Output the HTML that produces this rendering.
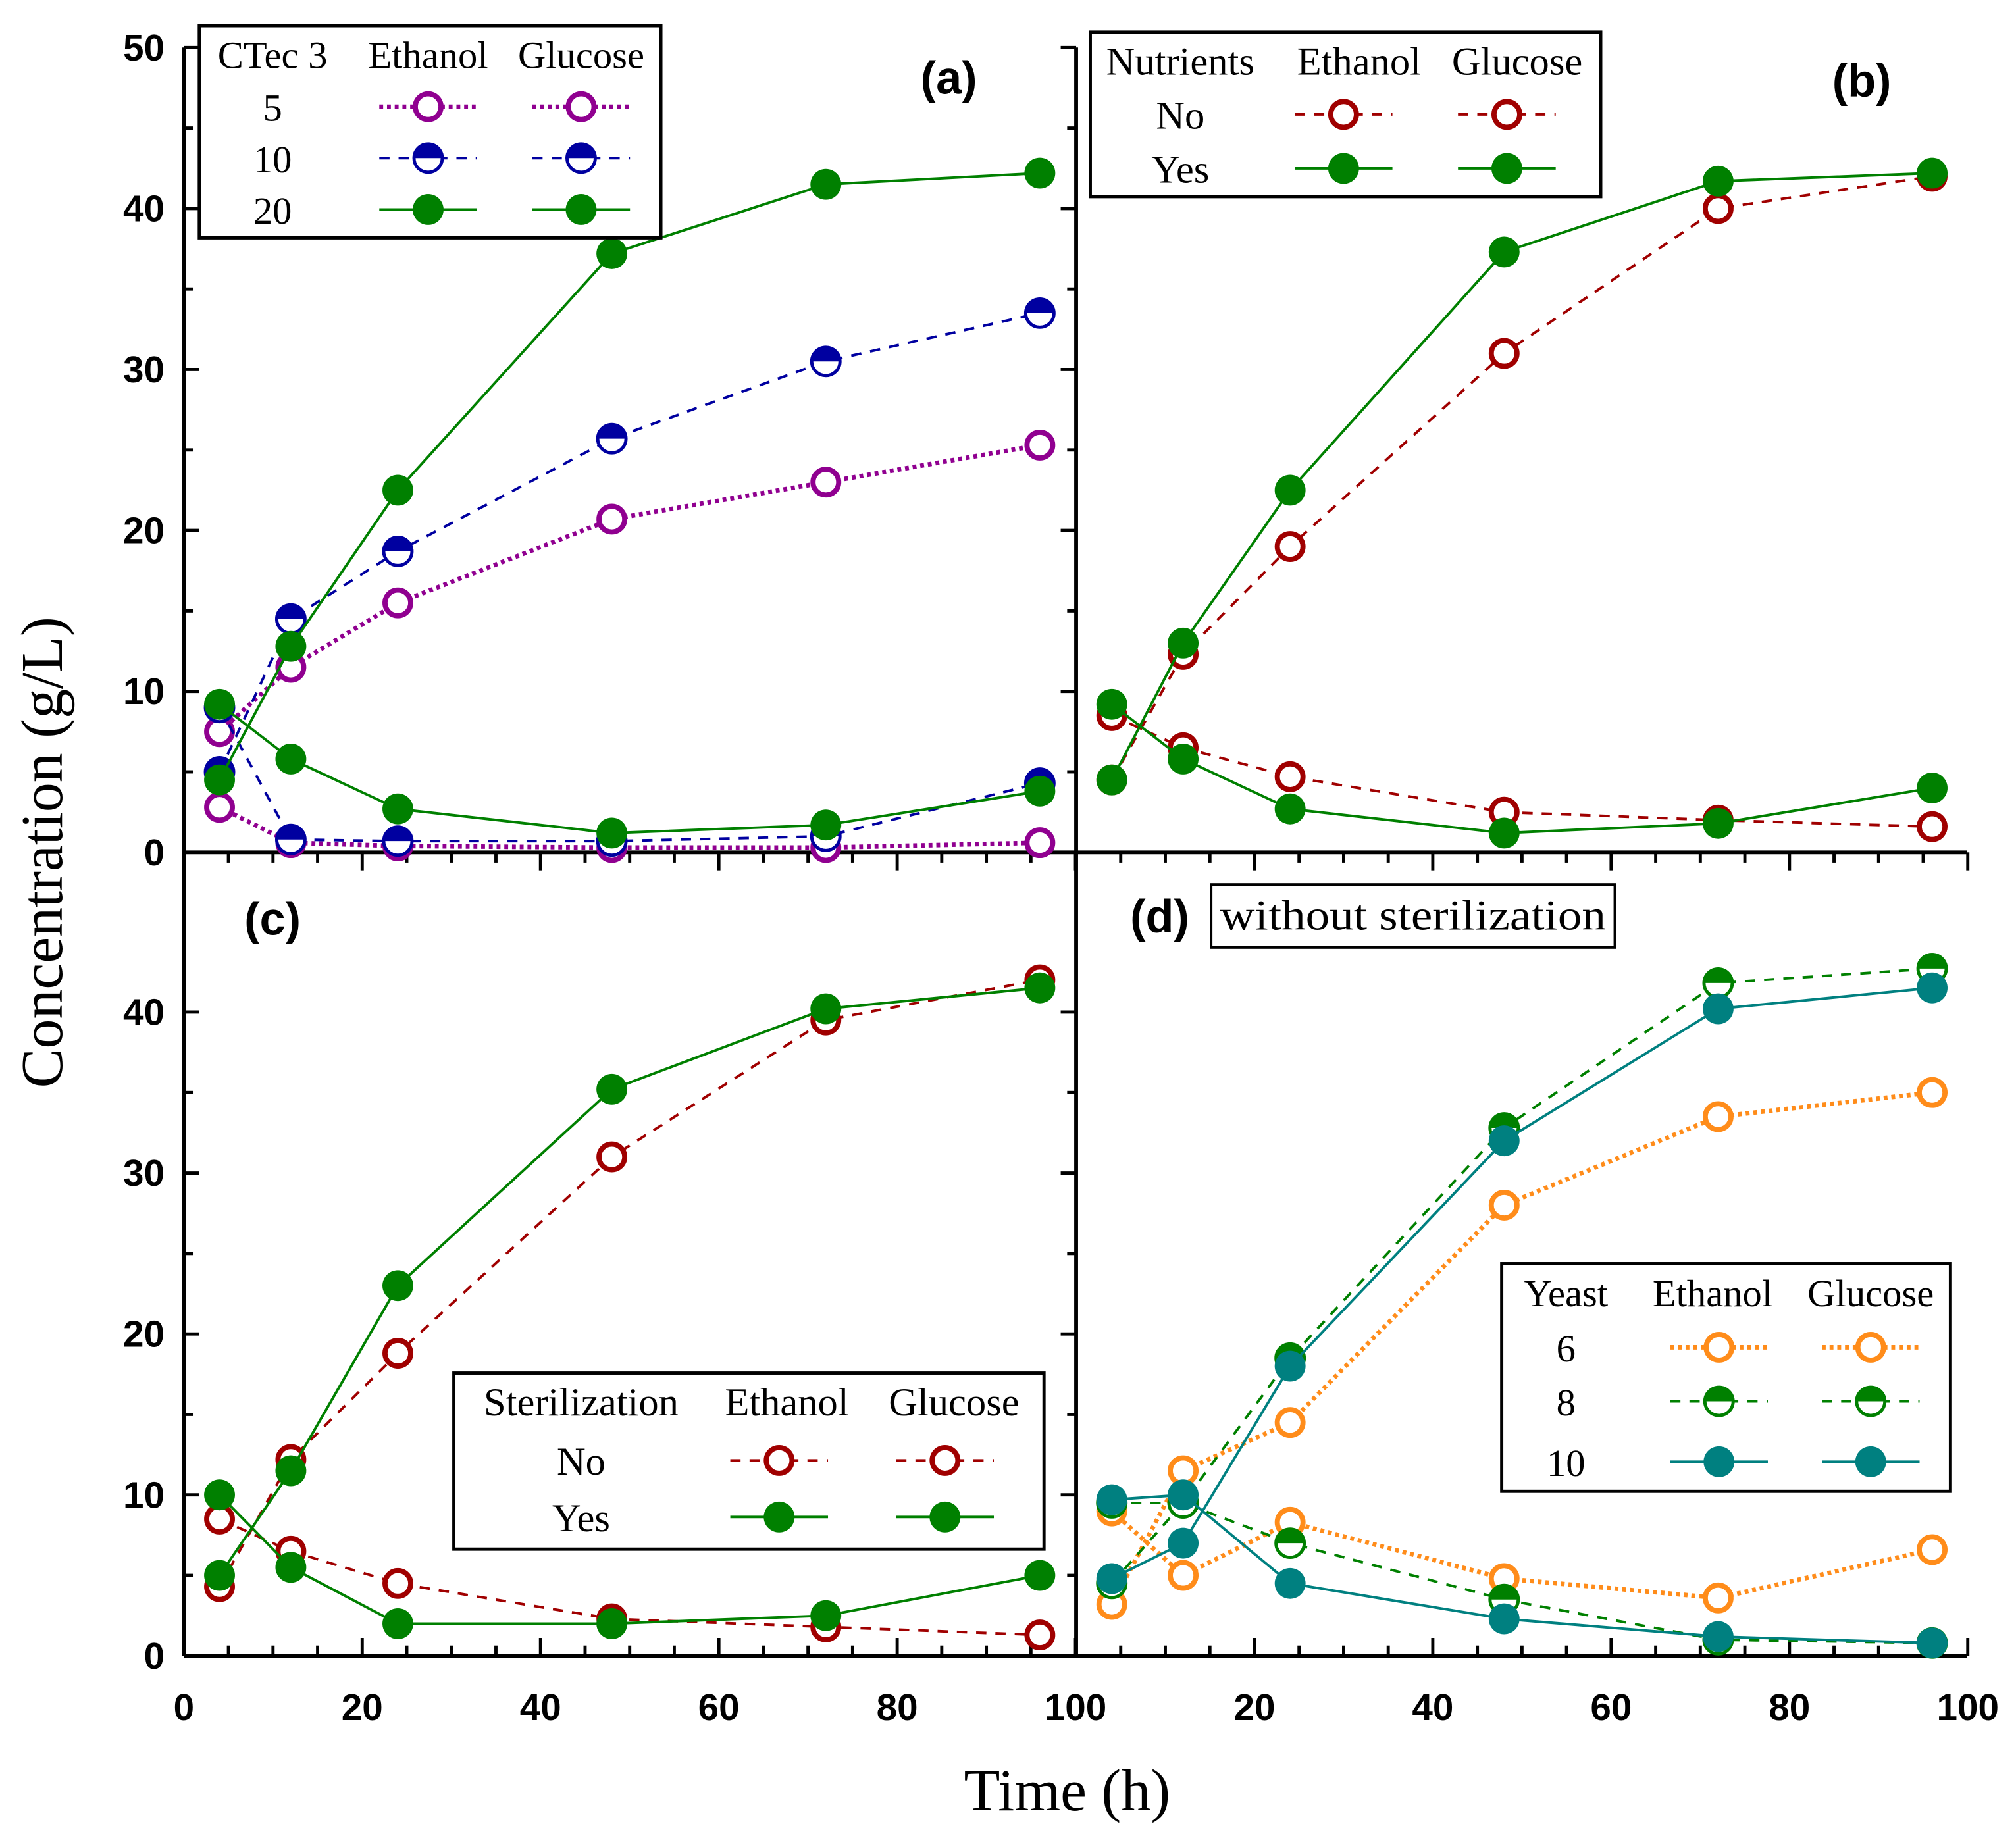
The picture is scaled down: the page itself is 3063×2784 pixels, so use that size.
<!DOCTYPE html>
<html><head><meta charset="utf-8"><style>
html,body{margin:0;padding:0;background:#fff;}
svg{display:block;}
text{font-family:"Liberation Serif",serif;}
.tk{font-family:"Liberation Sans",sans-serif;font-weight:bold;font-size:29px;}
.pl{font-family:"Liberation Sans",sans-serif;font-weight:bold;font-size:36px;}
</style></head><body>
<svg id="chart" width="3063" height="2784" viewBox="0 0 1568 1425" preserveAspectRatio="none" xmlns="http://www.w3.org/2000/svg">
<g id="axes"></g>
<g id="marks"></g>
<g id="legends"></g>
<text x="830" y="1408" font-size="46" text-anchor="middle">Time (h)</text>
<text transform="translate(48,663) rotate(-90)" font-size="46" text-anchor="middle">Concentration (g/L)</text>
<text x="738" y="73" class="pl" text-anchor="middle">(a)</text>
<text x="1448" y="75" class="pl" text-anchor="middle">(b)</text>
<text x="212" y="727" class="pl" text-anchor="middle">(c)</text>
<text x="902" y="725" class="pl" text-anchor="middle">(d)</text>
<rect x="942" y="688" width="314" height="49" fill="#fff" stroke="#000" stroke-width="2"/>
<text x="1099" y="723" font-size="33" text-anchor="middle" textLength="300" lengthAdjust="spacingAndGlyphs">without sterilization</text>
</svg>
<script>
const times = [4, 12, 24, 48, 72, 96];
// panel a
const aEth5 = [7.5, 11.5, 15.5, 20.7, 23.0, 25.3];
const aGlu5 = [2.8, 0.6, 0.4, 0.3, 0.3, 0.6];
const aEth10 = [5.0, 14.5, 18.7, 25.7, 30.5, 33.5];
const aGlu10 = [9.0, 0.8, 0.7, 0.7, 1.0, 4.3];
const aEth20 = [4.5, 12.8, 22.5, 37.2, 41.5, 42.2];
const aGlu20 = [9.2, 5.8, 2.7, 1.2, 1.7, 3.8];
// panel b
const bEthNo = [4.5, 12.3, 19.0, 31.0, 40.0, 42.0];
const bGluNo = [8.5, 6.5, 4.7, 2.5, 2.0, 1.6];
const bEthYes = [4.5, 13.0, 22.5, 37.3, 41.7, 42.2];
const bGluYes = [9.2, 5.8, 2.7, 1.2, 1.8, 4.0];
// panel c
const cEthNo = [4.3, 12.2, 18.8, 31.0, 39.5, 42.0];
const cGluNo = [8.5, 6.5, 4.5, 2.3, 1.8, 1.3];
const cEthYes = [5.0, 11.5, 23.0, 35.2, 40.2, 41.5];
const cGluYes = [10.0, 5.5, 2.0, 2.0, 2.5, 5.0];
// panel d
const dEth6 = [3.2, 11.5, 14.5, 28.0, 33.5, 35.0];
const dGlu6 = [9.0, 5.0, 8.3, 4.8, 3.6, 6.6];
const dEth8 = [4.5, 9.5, 18.5, 32.8, 41.8, 42.7];
const dGlu8 = [9.5, 9.5, 7.0, 3.5, 1.0, 0.8];
const dEth10 = [4.8, 7.0, 18.0, 32.0, 40.2, 41.5];
const dGlu10 = [9.7, 10.0, 4.5, 2.3, 1.2, 0.8];
const xTicks = [0, 20, 40, 60, 80, 100];
const yTicksTop = [0, 10, 20, 30, 40, 50];
const yTicksBot = [0, 10, 20, 30, 40];

const NS = "http://www.w3.org/2000/svg";
function mk(parent, tag, attrs) {
  const e = document.createElementNS(NS, tag);
  for (const k in attrs) e.setAttribute(k, attrs[k]);
  parent.appendChild(e);
  return e;
}
const panels = {
  a: {x0: 143, y0: 663, yMax: 50},
  b: {x0: 837, y0: 663, yMax: 50},
  c: {x0: 143, y0: 1288, yMax: 40},
  d: {x0: 837, y0: 1288, yMax: 40}
};
const XS = 6.935, YS = 12.52;
function sx(p, v) { return panels[p].x0 + v * XS; }
function sy(p, v) { return panels[p].y0 - v * YS; }

const axes = document.getElementById('axes');
[[143,37,143,1288],[143,1288,1530,1288],[837,37,837,1288],[143,663,1530,663]].forEach(l=>{
  const e = mk(axes,'line',{x1:l[0],y1:l[1],x2:l[2],y2:l[3],stroke:'#000','stroke-width':3});
  
  
});
[['a',yTicksTop],['c',yTicksBot]].forEach(([p,tk])=>{
  for (let v = 0; v <= panels[p].yMax; v += 5) {
    const y = sy(p, v), len = v % 10 === 0 ? 12 : 7;
    mk(axes,'line',{x1:143,y1:y,x2:143+len,y2:y,stroke:'#000','stroke-width':2.5});
    mk(axes,'line',{x1:837,y1:y,x2:837-len,y2:y,stroke:'#000','stroke-width':2.5});
  }
  tk.forEach(v=>{
    const t = mk(axes,'text',{x:128,y:sy(p,v)+10,'text-anchor':'end',class:'tk'});
    
    
    t.textContent = v;
  });
});
['c','d'].forEach(p=>{
  for (let v = 0; v <= 100; v += 5) {
    const x = sx(p, v), len = v % 20 === 0 ? 14 : 8;
    mk(axes,'line',{x1:x,y1:1288,x2:x,y2:1288-len,stroke:'#000','stroke-width':2.5});
    mk(axes,'line',{x1:x,y1:663,x2:x,y2:663+len,stroke:'#000','stroke-width':2.5});
  }
  xTicks.forEach(v=>{
    if (p==='d' && v===0) return;
    const t = mk(axes,'text',{x:sx(p,v),y:1338,'text-anchor':'middle',class:'tk'});
    
    
    t.textContent = v;
  });
});

const marks = document.getElementById('marks');
function marker(g, x, y, color, style, r) {
  r = r || 12;
  if (style === 'open') {
    mk(g,'circle',{cx:x,cy:y,r:r-2,fill:'#fff',stroke:color,'stroke-width':4});
  } else if (style === 'half') {
    mk(g,'circle',{cx:x,cy:y,r:r-1,fill:'#fff',stroke:color,'stroke-width':2.5});
    mk(g,'path',{d:`M${x-r} ${y} A${r} ${r} 0 0 1 ${x+r} ${y} Z`,fill:color});
  } else {
    mk(g,'circle',{cx:x,cy:y,r:r,fill:color});
  }
}
const dashes = {dot:'3,3', dash:'8,7', solid:'none'};
function series(p, vals, color, dash, style, name) {
  const g = mk(marks,'g',{});
  
  
  const pts = times.map((t,i)=>sx(p,t)+','+sy(p,vals[i])).join(' ');
  mk(g,'polyline',{points:pts,fill:'none',stroke:color,'stroke-width':dash==='dot'?3.5:2,'stroke-dasharray':dashes[dash]});
  times.forEach((t,i)=>marker(g, sx(p,t), sy(p,vals[i]), color, style));
}
const PUR='#900090', BLU='#0000A0', GRN='#008000', RED='#A00000', ORG='#FF8C1A', TEAL='#008080';
series('a', aGlu5, PUR, 'dot', 'open', 'series-a-glucose-5');
series('a', aEth5, PUR, 'dot', 'open', 'series-a-ethanol-5');
series('a', aGlu10, BLU, 'dash', 'half', 'series-a-glucose-10');
series('a', aEth10, BLU, 'dash', 'half', 'series-a-ethanol-10');
series('a', aEth20, GRN, 'solid', 'fill', 'series-a-ethanol-20');
series('a', aGlu20, GRN, 'solid', 'fill', 'series-a-glucose-20');
series('b', bEthNo, RED, 'dash', 'open', 'series-b-ethanol-no');
series('b', bGluNo, RED, 'dash', 'open', 'series-b-glucose-no');
series('b', bEthYes, GRN, 'solid', 'fill', 'series-b-ethanol-yes');
series('b', bGluYes, GRN, 'solid', 'fill', 'series-b-glucose-yes');
series('c', cEthNo, RED, 'dash', 'open', 'series-c-ethanol-no');
series('c', cGluNo, RED, 'dash', 'open', 'series-c-glucose-no');
series('c', cEthYes, GRN, 'solid', 'fill', 'series-c-ethanol-yes');
series('c', cGluYes, GRN, 'solid', 'fill', 'series-c-glucose-yes');
series('d', dEth6, ORG, 'dot', 'open', 'series-d-ethanol-6');
series('d', dGlu6, ORG, 'dot', 'open', 'series-d-glucose-6');
series('d', dEth8, GRN, 'dash', 'half', 'series-d-ethanol-8');
series('d', dGlu8, GRN, 'dash', 'half', 'series-d-glucose-8');
series('d', dEth10, TEAL, 'solid', 'fill', 'series-d-ethanol-10');
series('d', dGlu10, TEAL, 'solid', 'fill', 'series-d-glucose-10');

const legends = document.getElementById('legends');
function legend(name, box, hdr, hx, rows, ry, mx, fs) {
  const g = mk(legends,'g',{});
  
  
  mk(g,'rect',{x:box[0],y:box[1],width:box[2]-box[0],height:box[3]-box[1],fill:'#fff',stroke:'#000','stroke-width':2.5});
  hdr.forEach((h,i)=>{ const t=mk(g,'text',{x:hx[i],y:box[1]+33,'text-anchor':'middle','font-size':fs}); t.textContent=h; });
  rows.forEach((r,i)=>{
    const y = ry[i];
    const t = mk(g,'text',{x:hx[0],y:y+11,'text-anchor':'middle','font-size':fs}); t.textContent=r[0];
    mx.forEach(x=>{
      mk(g,'line',{x1:x-38,y1:y,x2:x+38,y2:y,stroke:r[1],'stroke-width':r[2]==='dot'?3.5:2,'stroke-dasharray':dashes[r[2]]});
      marker(g,x,y,r[1],r[3]);
    });
  });
}
legend('legend-a',[155,20,514,185],['CTec 3','Ethanol','Glucose'],[212,333,452],
  [['5',PUR,'dot','open'],['10',BLU,'dash','half'],['20',GRN,'solid','fill']],[83,123,163],[333,452],30);
legend('legend-b',[848,25,1245,153],['Nutrients','Ethanol','Glucose'],[918,1057,1180],
  [['No',RED,'dash','open'],['Yes',GRN,'solid','fill']],[89,131],[1045,1172],31);
legend('legend-c',[353,1068,812,1205],['Sterilization','Ethanol','Glucose'],[452,612,742],
  [['No',RED,'dash','open'],['Yes',GRN,'solid','fill']],[1136,1180],[606,735],31);
legend('legend-d',[1168,983,1517,1160],['Yeast','Ethanol','Glucose'],[1218,1332,1455],
  [['6',ORG,'dot','open'],['8',GRN,'dash','half'],['10',TEAL,'solid','fill']],[1048,1090,1137],[1337,1455],30);
</script>
</body></html>
